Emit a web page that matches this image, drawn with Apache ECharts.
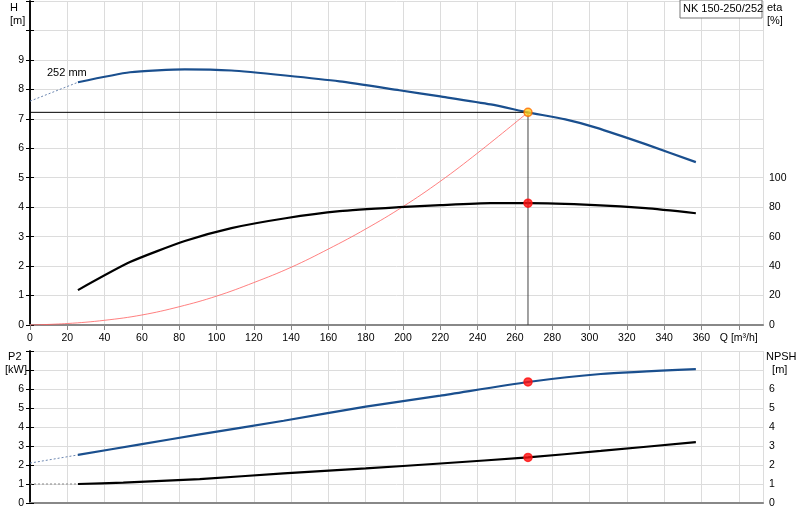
<!DOCTYPE html>
<html><head><meta charset="utf-8">
<script src="https://cdn.jsdelivr.net/npm/echarts@6/dist/echarts.min.js"></script>
<style>html,body{margin:0;padding:0;background:#fff}#c{width:800px;height:520px}</style>
</head><body><div id="c"></div>
<script>
const headQ=[25.7,53.6,83,108,137,166,198,220,247,267,287,303,330,357];
const headH=[8.24,8.58,8.68,8.64,8.47,8.27,7.97,7.76,7.49,7.22,6.98,6.71,6.14,5.53];
const headExt=[[0,7.6],[25.7,8.24]];
const etaQ=[25.7,53.6,83,108,137,166,198,220,247,267,303,330,357];
const etaV=[23.7,42.7,57,65.8,72.5,77.3,80,81.4,82.7,82.7,81.4,79.3,75.9];
const sysQ=[0,20,40,60,80,100,120,140,160,180,200,220,240,267];
const sysH=[0,0.05,0.16,0.34,0.62,0.98,1.44,1.96,2.58,3.26,4.02,4.88,5.84,7.22];
const p2Q=[25.7,60,91,136,180,220,267,306,357];
const p2V=[2.53,3.1,3.61,4.33,5.07,5.65,6.37,6.79,7.05];
const p2Ext=[[0,2.1],[25.7,2.53]];
const npQ=[25.7,50,91,136,180,220,267,306,357];
const npV=[1.0,1.07,1.26,1.56,1.82,2.08,2.4,2.74,3.2];
const npExt=[[0,1.0],[25.7,1.0]];
const op={q:267,h:7.22,eta:82.7,p2:6.37,np:2.4};
const zip=(a,b)=>a.map((v,i)=>[v,b[i]]);
const ch=echarts.init(document.getElementById('c'));
const grid='#dcdcdc', f='Arial, Liberation Sans, sans-serif';
const xBase=(gi,show)=>({type:'value',gridIndex:gi,min:0,max:393,interval:20,
  axisLine:{show:true,onZero:false,lineStyle:{color:'#888',width:2}},axisTick:{show:show,lineStyle:{color:'#888'}},
  axisLabel:{show:show,color:'#000',fontSize:10.5,fontFamily:f,formatter:v=>v===380?'Q [m³/h]':v},
  splitLine:{show:true,lineStyle:{color:grid,width:1}}});
const yAx=(gi,pos,max,interval,hideAbove)=>({type:'value',gridIndex:gi,position:pos,min:0,max:max,interval:interval,
  axisLine:{show:true,lineStyle:{color:'#000',width:1.5}},axisTick:{show:true,length:4,lineStyle:{color:'#000'}},
  axisLabel:{color:'#000',fontSize:10.5,fontFamily:f,margin:6,formatter:v=>v>hideAbove?'':v},
  splitLine:{show:pos==='left',lineStyle:{color:grid}}});
const line=(data,color,w,xi,yi,extra)=>Object.assign({type:'line',data:data,xAxisIndex:xi,yAxisIndex:yi,smooth:0.2,symbol:'none',
  lineStyle:{color:color,width:w},silent:true,z:3},extra||{});
const dot=(p,xi,yi,fill,border)=>({type:'scatter',data:[p],xAxisIndex:xi,yAxisIndex:yi,symbolSize:8,
  itemStyle:{color:fill,borderColor:border,borderWidth:1.5},z:10});
ch.setOption({animation:false,
 grid:[{left:30,right:37,top:1,height:324},{left:30,right:37,top:351,height:152}],
 xAxis:[xBase(0,true),xBase(1,false),
   {type:'value',gridIndex:0,position:'top',min:0,max:393,show:true,axisLine:{show:true,lineStyle:{color:'#888'}},axisLabel:{show:false},axisTick:{show:false},splitLine:{show:false}},
   {type:'value',gridIndex:1,position:'top',min:0,max:393,show:true,axisLine:{show:true,lineStyle:{color:'#888'}},axisLabel:{show:false},axisTick:{show:false},splitLine:{show:false}}],
 yAxis:[yAx(0,'left',11,1,9),yAx(0,'right',220,20,100),yAx(1,'left',8,1,6),yAx(1,'right',8,1,6)],
 graphic:[
  {type:'text',left:10,top:1,style:{text:'H\n[m]',font:'11px '+f,fill:'#000',lineHeight:13,align:'center'}},
  {type:'text',left:767,top:1,style:{text:'eta\n[%]',font:'11px '+f,fill:'#000',lineHeight:13}},
  {type:'text',left:5,top:350,style:{text:' P2\n[kW]',font:'11px '+f,fill:'#000',lineHeight:13}},
  {type:'text',left:766,top:350,style:{text:'NPSH\n  [m]',font:'11px '+f,fill:'#000',lineHeight:13}},
  {type:'text',left:47,top:67,style:{text:'252 mm',font:'11px '+f,fill:'#000'}},
  {type:'rect',shape:{x:680,y:0,width:82,height:18},style:{fill:'#fff',stroke:'#777',lineWidth:1},z:20},
  {type:'text',left:683,top:3,z:21,style:{text:'NK 150-250/252',font:'11px '+f,fill:'#000'}}
 ],
 series:[
  line(zip(sysQ,sysH),'#ff5050',1,0,0,{smooth:0.4,lineStyle:{color:'#ff6060',width:1,opacity:0.8}}),
  line(headExt,'#5a7aa8',1,0,0,{smooth:false,lineStyle:{color:'#6b86b0',width:1,type:[2,2]}}),
  line(zip(headQ,headH),'#1a4f8e',2.2,0,0),
  line(zip(etaQ,etaV),'#000',2.2,0,1),
  {type:'line',xAxisIndex:0,yAxisIndex:0,symbol:'none',data:[[0,op.h],[op.q,op.h]],lineStyle:{color:'#000',width:1},z:4},
  {type:'line',xAxisIndex:0,yAxisIndex:0,symbol:'none',data:[[op.q,op.h],[op.q,0]],lineStyle:{color:'#444',width:1},z:4},
  dot([op.q,op.h],0,0,'#ffd21f','#ff6a00'),
  dot([op.q,op.eta],0,1,'#ff1010','#ff1010'),
  line(p2Ext,'#6b86b0',1,1,2,{smooth:false,lineStyle:{color:'#6b86b0',width:1,type:[2,2]}}),
  line(zip(p2Q,p2V),'#1a4f8e',2.2,1,2),
  line(npExt,'#888',1,1,3,{smooth:false,lineStyle:{color:'#888',width:1,type:[2,2]}}),
  line(zip(npQ,npV),'#000',2.2,1,3),
  dot([op.q,op.p2],1,2,'#ff1010','#ff1010'),
  dot([op.q,op.np],1,3,'#ff1010','#ff1010')
 ]});
</script></body></html>
